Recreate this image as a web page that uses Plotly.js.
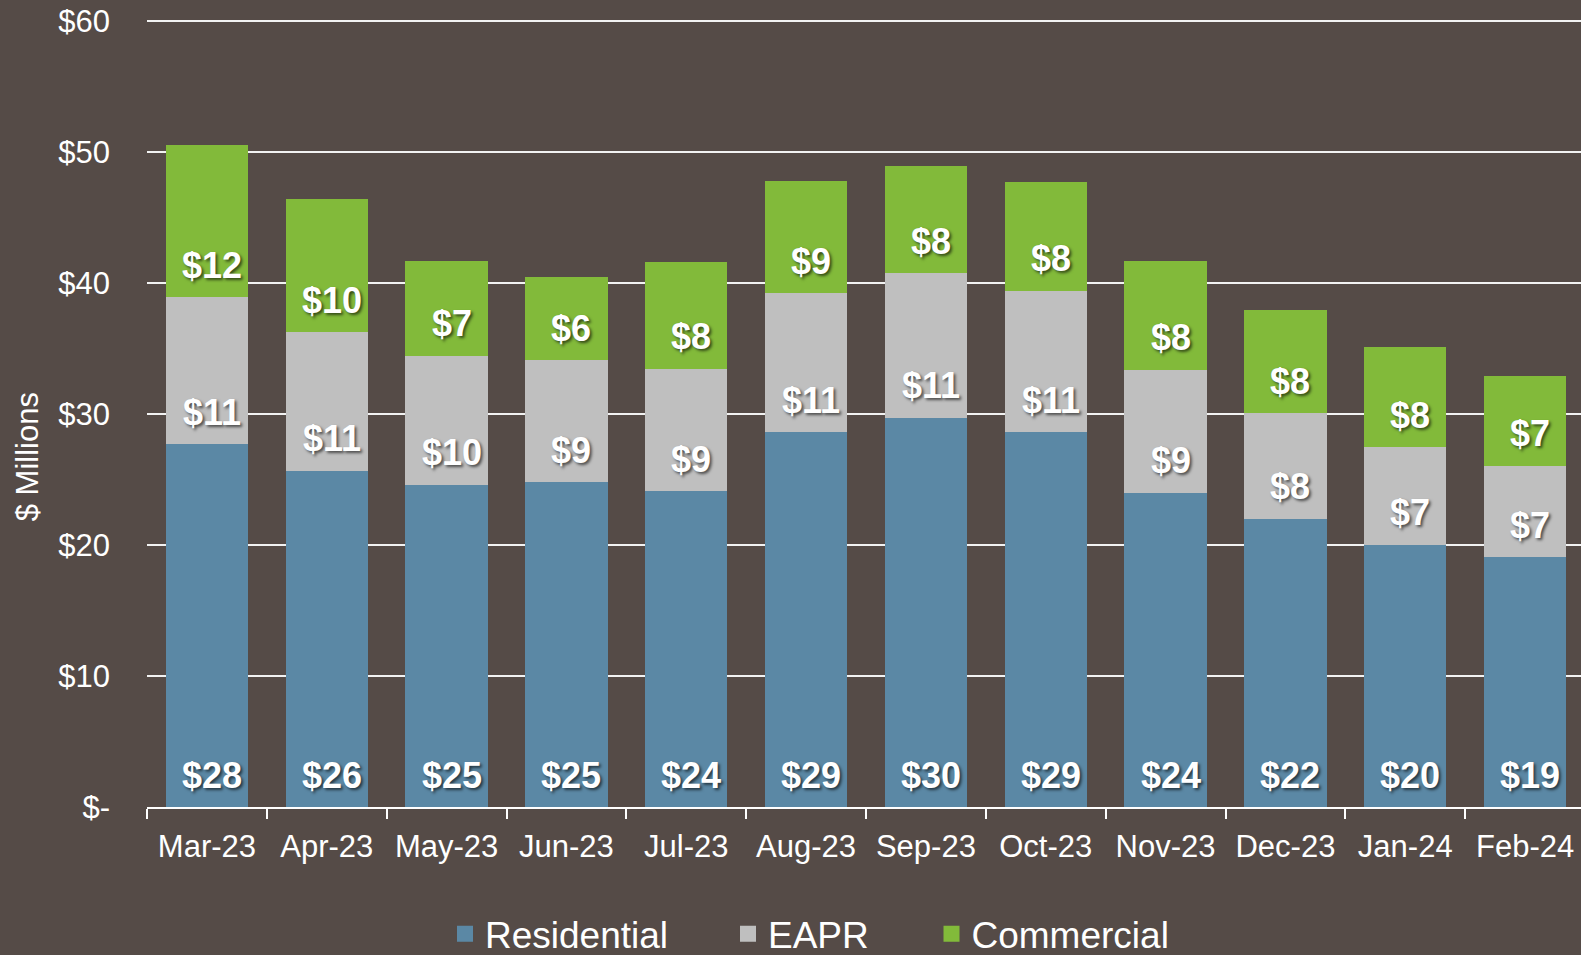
<!DOCTYPE html>
<html>
<head>
<meta charset="utf-8">
<script src="https://cdn.plot.ly/plotly-3.0.1.min.js"></script>
<style>html,body{margin:0;padding:0;background:#554B47;overflow:hidden;}</style>
</head>
<body>
<div id="chart" style="width:1585px;height:955px;"></div>
<script>
var months = ['Mar-23','Apr-23','May-23','Jun-23','Jul-23','Aug-23','Sep-23','Oct-23','Nov-23','Dec-23','Jan-24','Feb-24'];
var residential = [27.7, 25.65, 24.6, 24.8, 24.1, 28.6, 29.7, 28.6, 24.0, 22.0, 20.0, 19.05];
var eapr        = [11.2, 10.6, 9.83, 9.3, 9.37, 10.6, 11.06, 10.8, 9.37, 8.06, 7.45, 6.99];
var commercial  = [11.6, 10.15, 7.22, 6.38, 8.14, 8.6, 8.2, 8.3, 8.3, 7.91, 7.68, 6.83];
var yTickVals = [0, 10, 20, 30, 40, 50, 60];
var yTickText = ['$-', '$10', '$20', '$30', '$40', '$50', '$60'];
var yTitle = '$ Millions';

var FONT = 'Arial, "Liberation Sans", Helvetica, sans-serif';
var BG = '#554B47';
var series = [
  {name: 'Residential', values: residential, color: '#5B88A5', legend: 'legend'},
  {name: 'EAPR', values: eapr, color: '#BFBFBF', legend: 'legend2'},
  {name: 'Commercial', values: commercial, color: '#82BA3A', legend: 'legend3'}
];

var traces = [];
series.forEach(function (s) {
  traces.push({
    type: 'bar', x: months, y: s.values, name: s.name,
    marker: {color: s.color, line: {width: 0}},
    showlegend: false, legendgroup: s.name, hoverinfo: 'skip'
  });
});
// legend-only entries (no data) so the legend swatch can be a larger square
series.forEach(function (s) {
  traces.push({
    type: 'scatter', mode: 'markers', x: [null], y: [null], name: s.name,
    marker: {symbol: 'square', size: 16, color: s.color},
    legend: s.legend, legendgroup: s.name, hoverinfo: 'skip'
  });
});

var annotations = [];
var bases = months.map(function () { return 0; });
series.forEach(function (s) {
  s.values.forEach(function (v, j) {
    annotations.push({
      x: months[j], y: bases[j], xref: 'x', yref: 'y',
      text: '$' + Math.round(v), showarrow: false,
      yanchor: 'middle', yshift: 32, xshift: 5,
      font: {family: FONT, size: 36, color: '#FFFFFF', weight: 'bold',
             shadow: '2px 2px 3px rgba(0,0,0,0.6)'}
    });
    bases[j] += v;
  });
});

var PW = 1438; // plot width in px, for paper-coordinate placement
function px(x) { return (x - 147) / PW; }

annotations.push({
  text: yTitle, xref: 'paper', yref: 'paper', x: px(27), y: 0.4427,
  xanchor: 'center', yanchor: 'middle', textangle: -90, showarrow: false,
  font: {family: FONT, size: 31, color: '#FFFFFF'}
});

function legendAt(x) {
  return {
    orientation: 'h', x: px(x), xanchor: 'left', y: -0.161, yanchor: 'middle',
    bgcolor: 'rgba(0,0,0,0)', borderwidth: 0, itemwidth: 30,
    font: {family: FONT, size: 37, color: '#FFFFFF'}
  };
}

var layout = {
  width: 1585, height: 955,
  margin: {l: 147, r: 0, t: 17, b: 148, pad: 0, autoexpand: false},
  paper_bgcolor: BG, plot_bgcolor: BG,
  barmode: 'stack', bargap: 0.312,
  font: {family: FONT, color: '#FFFFFF'},
  showlegend: true,
  legend: legendAt(445),
  legend2: legendAt(728),
  legend3: legendAt(931.5),
  xaxis: {
    type: 'category', showgrid: false, zeroline: false,
    showline: true, linecolor: '#FFFFFF', linewidth: 2,
    ticks: 'outside', tickson: 'boundaries', ticklen: 10, tickwidth: 2, tickcolor: '#FFFFFF',
    tickfont: {family: FONT, size: 31, color: '#FFFFFF'},
    ticklabelstandoff: 11
  },
  yaxis: {
    range: [0, 60.3], tickvals: yTickVals, ticktext: yTickText,
    showgrid: true, gridcolor: '#F2F2F2', gridwidth: 2,
    zeroline: false, showline: false, ticks: '',
    ticklabelstandoff: 36,
    tickfont: {family: FONT, size: 31, color: '#FFFFFF'}
  },
  annotations: annotations
};

Plotly.newPlot('chart', traces, layout, {displayModeBar: false, staticPlot: true});
</script>
</body>
</html>
